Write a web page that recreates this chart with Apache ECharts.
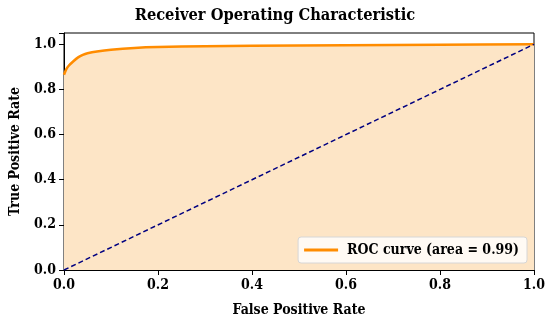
<!DOCTYPE html>
<html><head><meta charset="utf-8">
<script src="https://cdn.jsdelivr.net/npm/echarts@6/dist/echarts.min.js"></script>
<style>html,body{margin:0;padding:0;background:#fff}#c{width:550px;height:322px}</style>
</head><body><div id="c"></div>
<script>
const fpr = [0, 0.005, 0.01, 0.02, 0.03, 0.04, 0.05, 0.07, 0.1, 0.15, 0.2, 0.3, 0.4, 0.6, 0.8, 1.0];
const tpr = [0.865, 0.89, 0.905, 0.925, 0.942, 0.953, 0.96, 0.968, 0.976, 0.984, 0.988, 0.991, 0.993, 0.996, 0.998, 1.0];
const diagX = [0, 1];
const diagY = [0, 1];
const ticks = [0, 0.2, 0.4, 0.6, 0.8, 1.0];
const FONT = 'DejaVu Serif Condensed';
const chart = echarts.init(document.getElementById('c'));
chart.setOption({
  animation: false,
  title: {text: 'Receiver Operating Characteristic', left: 'center', top: 3,
    textStyle: {fontFamily: FONT, fontWeight: 'bold', fontSize: 16.3, color: '#000'}},
  grid: {left: 62, right: 16, top: 33, bottom: 52, show: true, borderColor: '#000', borderWidth: 1},
  legend: {right: 23, bottom: 59, orient: 'horizontal', data: ['ROC curve (area = 0.99)'],
    backgroundColor: 'rgba(255,255,255,0.8)', borderColor: '#d6d6d6', borderWidth: 1, borderRadius: 3,
    padding: [6, 8, 6, 6], itemWidth: 34, itemHeight: 3, itemGap: 10,
    textStyle: {fontFamily: FONT, fontWeight: 'bold', fontSize: 14, color: '#000', padding: [0, 0, 0, 4]},
    icon: 'rect'},
  xAxis: {type: 'value', min: 0, max: 1, interval: 0.2,
    name: 'False Positive Rate', nameLocation: 'middle', nameGap: 33,
    nameTextStyle: {fontFamily: FONT, fontWeight: 'bold', fontSize: 14, color: '#000'},
    axisLine: {show: true, lineStyle: {color: '#000'}},
    axisTick: {show: true, length: 5, lineStyle: {color: '#000'}},
    splitLine: {show: false},
    axisLabel: {fontFamily: FONT, fontWeight: 'bold', fontSize: 14, color: '#000', margin: 8,
      formatter: v => v.toFixed(1)}},
  yAxis: {type: 'value', min: 0, max: 1.05, interval: 0.2,
    name: 'True Positive Rate', nameLocation: 'middle', nameGap: 42,
    nameTextStyle: {fontFamily: FONT, fontWeight: 'bold', fontSize: 14, color: '#000'},
    axisLine: {show: true, lineStyle: {color: '#000'}},
    axisTick: {show: true, length: 5, lineStyle: {color: '#000'}},
    splitLine: {show: false},
    axisLabel: {fontFamily: FONT, fontWeight: 'bold', fontSize: 14, color: '#000', margin: 8,
      formatter: v => ticks.some(t => Math.abs(t - v) < 1e-9) ? v.toFixed(1) : ''}},
  series: [
    {name: 'ROC curve (area = 0.99)', type: 'line', smooth: 0.3, symbol: 'none',
      data: fpr.map((x, i) => [x, tpr[i]]),
      lineStyle: {color: '#ff8c00', width: 2.5}, itemStyle: {color: '#ff8c00'},
      areaStyle: {color: '#fde5c6', opacity: 1}, z: 3},
    {name: 'diag', type: 'line', symbol: 'none', data: diagX.map((x, i) => [x, diagY[i]]),
      lineStyle: {color: '#000080', width: 1.5, type: [5, 3]}, z: 4}
  ]
});
</script></body></html>
